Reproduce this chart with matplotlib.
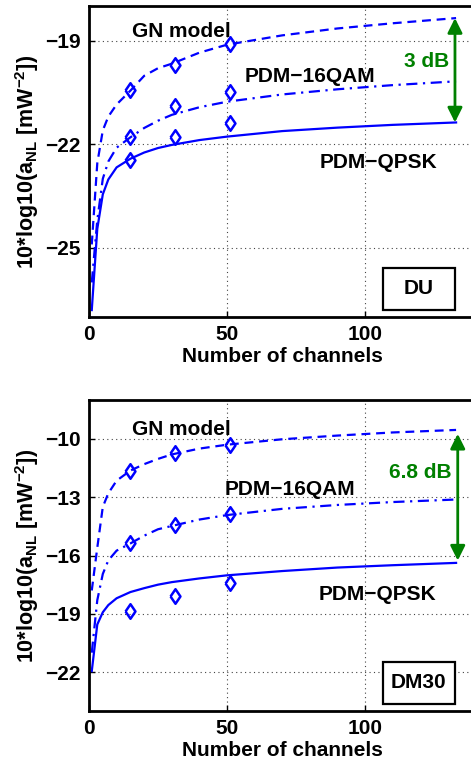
import matplotlib
matplotlib.use("Agg")
import matplotlib.pyplot as plt
from matplotlib.patches import Rectangle

plt.rcParams['font.family'] = ['Liberation Sans', 'DejaVu Sans']
plt.rcParams['font.weight'] = 'bold'
plt.rcParams['mathtext.fontset'] = 'custom'
plt.rcParams['mathtext.rm'] = 'Liberation Sans:bold'
plt.rcParams['mathtext.it'] = 'Liberation Sans:bold'
plt.rcParams['mathtext.bf'] = 'Liberation Sans:bold'

# ---------------- data ----------------
channels_curve = [1, 3, 5, 7, 10, 15, 20, 25, 30, 40, 50, 70, 90, 110, 133]
channels_sim = [15, 31, 51]

# DU panel
du_gn = [-24.9, -22.55, -21.6, -21.2, -20.85, -20.45, -20.02, -19.8, -19.67, -19.35, -19.12, -18.85, -18.65, -18.5, -18.35]
du_16qam = [-26.0, -24.2, -23.0, -22.5, -22.1, -21.8, -21.53, -21.32, -21.15, -20.93, -20.77, -20.56, -20.41, -20.29, -20.18]
du_qpsk = [-26.8, -24.45, -23.45, -23.02, -22.67, -22.42, -22.24, -22.11, -22.02, -21.88, -21.78, -21.62, -21.52, -21.44, -21.37]
du_sim_gn = [-20.42, -19.70, -19.10]
du_sim_16qam = [-21.78, -20.89, -20.49]
du_sim_qpsk = [-22.46, -21.80, -21.39]

# DM30 panel
dm_gn = [-17.8, -15.6, -13.5, -12.8, -12.15, -11.63, -11.3, -11.03, -10.8, -10.5, -10.3, -10.02, -9.83, -9.67, -9.54]
dm_16qam = [-21.0, -18.3, -16.95, -16.25, -15.75, -15.38, -14.98, -14.65, -14.48, -14.15, -13.92, -13.6, -13.4, -13.25, -13.12]
dm_qpsk = [-21.95, -19.55, -18.92, -18.55, -18.2, -17.88, -17.68, -17.5, -17.37, -17.18, -17.02, -16.8, -16.62, -16.5, -16.38]
dm_sim_gn = [-11.63, -10.74, -10.31]
dm_sim_16qam = [-15.34, -14.41, -13.84]
dm_sim_qpsk = [-18.83, -18.06, -17.39]

x_ticks = [0, 50, 100]
du_yticks = [-25, -22, -19]
dm_yticks = [-22, -19, -16, -13, -10]

panels = [
    dict(gn=du_gn, qam=du_16qam, qpsk=du_qpsk, sgn=du_sim_gn, sqam=du_sim_16qam, sqpsk=du_sim_qpsk,
         ylim=(-27, -18), yticks=du_yticks, name="DU", gap="3 dB",
         arrow_x=132.6, arrow_y=(-18.35, -21.37), gap_xy=(122.3, -19.61),
         gn_xy=(33.6, -18.74), qam_xy=(79.9, -20.04), qpsk_xy=(105.0, -22.54),
         bottom=1 - 317 / 760),
    dict(gn=dm_gn, qam=dm_16qam, qpsk=dm_qpsk, sgn=dm_sim_gn, sqam=dm_sim_16qam, sqpsk=dm_sim_qpsk,
         ylim=(-24, -8), yticks=dm_yticks, name="DM30", gap="6.8 dB",
         arrow_x=133.6, arrow_y=(-9.74, -16.26), gap_xy=(120.1, -11.72),
         gn_xy=(33.6, -9.54), qam_xy=(72.9, -12.61), qpsk_xy=(104.6, -18.0),
         bottom=1 - 711 / 760),
]

fig = plt.figure(figsize=(4.71, 7.60), dpi=100)
blue = '#0000ff'
green = '#008000'
fs = 15
diamond = [(-0.68, 0), (0, 1), (0.68, 0), (0, -1), (-0.68, 0)]

for p in panels:
    ax = fig.add_axes([89 / 471, p['bottom'], 386.4 / 471, 311 / 760])
    ax.plot(channels_curve, p['gn'], color=blue, lw=1.6, ls=(0, (4, 2.6)))
    ax.plot(channels_curve, p['qam'], color=blue, lw=1.6, ls=(0, (5, 2.5, 1, 2.5)))
    ax.plot(channels_curve, p['qpsk'], color=blue, lw=1.6, ls='-')
    for s in (p['sgn'], p['sqam'], p['sqpsk']):
        ax.plot(channels_sim, s, ls='none', marker=diamond, markersize=10.5, mfc='none',
                mec=blue, mew=1.8)
    ax.set_xlim(0, 140)
    ax.set_ylim(*p['ylim'])
    ax.set_xticks(x_ticks)
    ax.set_yticks(p['yticks'])
    ax.grid(True, color='#444444', ls=(0, (1, 3)), lw=0.8)
    ax.tick_params(direction='in', length=4, width=1, labelsize=fs, pad=6)
    for lab in ax.get_xticklabels() + ax.get_yticklabels():
        lab.set_fontweight('bold')
    for sp in ax.spines.values():
        sp.set_linewidth(2)
    ax.set_xlabel("Number of channels", fontsize=fs, fontweight='bold', labelpad=2)
    ax.set_ylabel(r"10*log10(a$_{\mathregular{NL}}$ [mW$^{\mathregular{-2}}$])", fontsize=15.5,
                  fontweight='bold', labelpad=3)
    ax.text(*p['gn_xy'], "GN model", fontsize=fs, fontweight='bold', ha='center', va='center')
    ax.text(*p['qam_xy'], "PDM\u221216QAM", fontsize=fs, fontweight='bold', ha='center', va='center')
    ax.text(*p['qpsk_xy'], "PDM\u2212QPSK", fontsize=fs, fontweight='bold', ha='center', va='center')
    ax.text(*p['gap_xy'], p['gap'], fontsize=fs, fontweight='bold', ha='center', va='center', color=green)
    ax.annotate("", xy=(p['arrow_x'], p['arrow_y'][0]), xytext=(p['arrow_x'], p['arrow_y'][1]),
                arrowprops=dict(arrowstyle='<|-|>', color=green, lw=2, mutation_scale=22,
                                shrinkA=0, shrinkB=0))
    ax.add_patch(Rectangle((0.760, 0.022), 0.187, 0.137, transform=ax.transAxes,
                           fill=True, facecolor='white', edgecolor='black', lw=1.6, zorder=5))
    ax.text(0.760 + 0.187 / 2, 0.022 + 0.137 / 2, p['name'], transform=ax.transAxes,
            fontsize=fs, fontweight='bold', ha='center', va='center', zorder=6)

fig.savefig("out.png", dpi=100)
